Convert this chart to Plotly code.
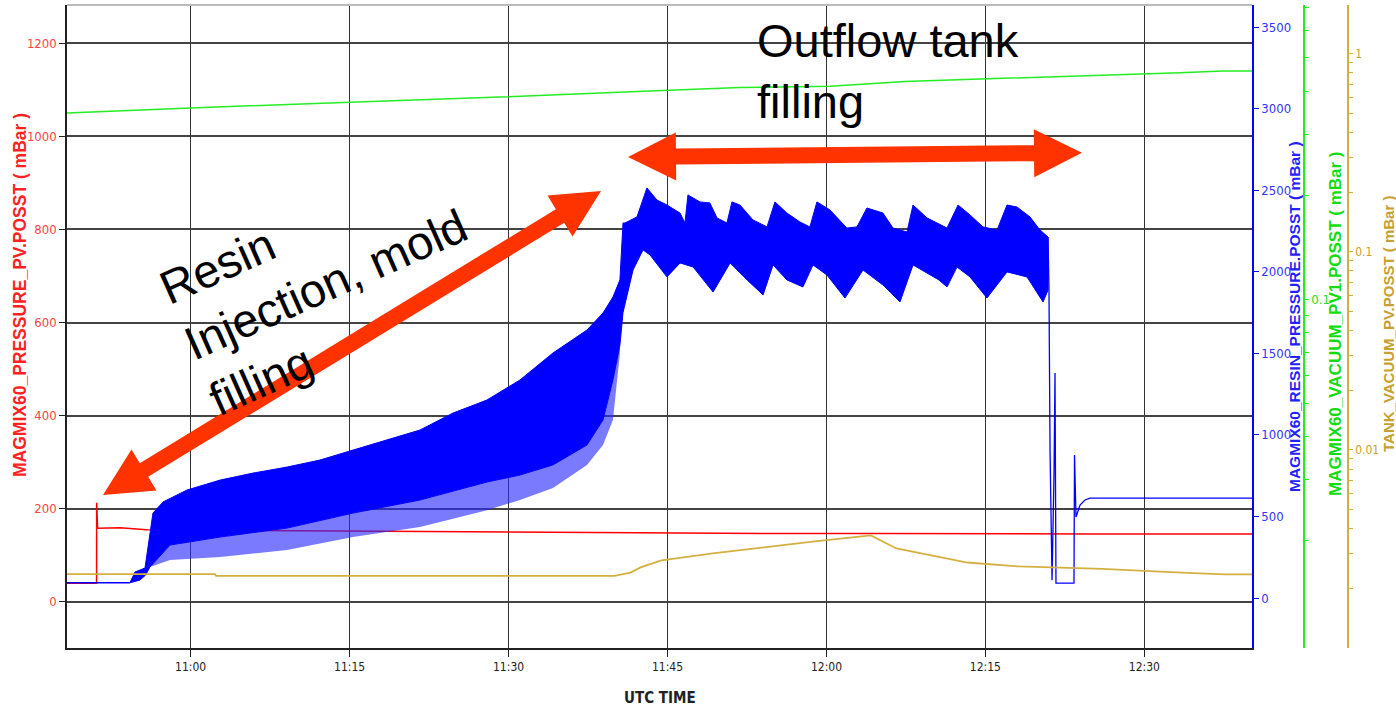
import plotly.graph_objects as go
import pandas as pd
import math

# ---------------- data (time = minutes after 10:00 UTC) ----------------
red_t = [48.33, 51.12, 51.13, 51.16, 51.22, 53.33, 55.85, 62.0, 70.0, 84.76, 95.0, 102.41, 115.0, 125.0, 136.38, 145.0, 160.16]
red_v = [40, 40, 213, 175, 158, 159, 155, 154, 153, 151, 149, 147.5, 147, 147, 146, 146, 146]

blue_pre_t = [48.33, 54.27]
blue_pre_v = [94, 94]

blue_up_t = [54.27, 54.75, 55.69, 56.10, 56.44, 57.39, 59.65, 62.77, 65.88, 69.09, 72.20, 75.32, 78.53,
             81.64, 84.76, 87.96, 91.08, 94.19, 97.40, 98.91, 99.85, 100.51, 100.80, 100.99, 102.12,
             103.06, 104.00, 104.95, 106.18, 106.65, 106.93, 108.06, 109.00, 109.67, 110.61, 111.08,
             111.84, 113.06, 114.39, 115.14, 116.27, 117.50, 118.44, 119.10, 120.33, 121.93, 122.88,
             123.82, 125.33, 126.28, 127.60, 128.17, 129.49, 131.38, 132.42, 133.55, 134.77, 136.10,
             137.04, 137.98, 139.21, 140.15, 140.91]
blue_up_v = [94, 160, 184, 356, 521, 589, 662, 723, 766, 803, 846, 907, 969,
             1030, 1134, 1214, 1337, 1502, 1643, 1747, 1845, 1950, 2299, 2299, 2336,
             2514, 2440, 2409, 2360, 2299, 2471, 2428, 2422, 2330, 2299, 2428,
             2409, 2318, 2275, 2428, 2360, 2305, 2275, 2428, 2379, 2268, 2275,
             2391, 2360, 2268, 2244, 2409, 2330, 2268, 2409, 2348, 2275, 2256,
             2409, 2397, 2336, 2256, 2213]

# solid lower edge of the oscillation band
blue_lo_t = [54.27, 55.20, 55.75, 56.16, 58.05, 62.77, 69.09, 75.32, 81.64, 87.96, 91.08, 94.19,
             97.40, 98.91, 99.85, 100.51, 100.80, 101.75, 102.69, 103.35, 104.95, 106.18, 107.42,
             109.30, 110.91, 112.51, 114.02, 114.96, 116.27, 117.78, 118.73, 120.05, 121.75, 123.45,
             125.33, 126.94, 128.17, 130.61, 131.38, 132.32, 133.55, 135.15, 137.04, 138.93, 140.44, 140.91]
blue_lo_v = [94, 110, 141, 190, 325, 374, 429, 521, 601, 711, 754, 816,
             938, 1091, 1337, 1550, 1750, 2011, 2134, 2103, 1968, 2054, 2029,
             1876, 2054, 1950, 1858, 2042, 1950, 1907, 2042, 1980, 1839, 2011,
             1919, 1815, 2042, 1950, 1907, 2029, 1968, 1839, 1999, 1968, 1815, 1888]

# tips of the downward spikes during injection
blue_spike_t = [56.16, 58.05, 62.77, 69.09, 75.32, 81.64, 87.96, 91.08, 94.19, 97.40, 98.91, 99.85, 100.51]
blue_spike_v = [190, 233, 251, 294, 374, 435, 539, 601, 674, 815, 938, 1091, 1500]

blue_tail_t = [140.91, 141.00, 141.10, 141.29, 141.48, 141.57, 141.66, 143.36, 143.41, 143.55, 143.93, 144.40, 144.87, 160.16]
blue_tail_v = [2213, 1900, 907, 110, 785, 1379, 92, 92, 877, 497, 570, 601, 613, 613]

green_t = [48.33, 60.0, 75.03, 89.19, 103.34, 111.84, 120.33, 127.41, 134.49, 140.15, 145.34, 153.36, 157.42, 160.16]
green_v = [0.346, 0.358, 0.372, 0.385, 0.401, 0.410, 0.414, 0.427, 0.434, 0.439, 0.444, 0.453, 0.458, 0.458]

tan_t = [48.33, 62.3, 62.4, 100.0, 101.5, 102.46, 104.43, 109.26, 118.9, 124.2, 126.6, 133.3, 138.15, 142.97, 146.0, 153.0, 157.5, 160.16]
tan_v = [0.00236, 0.00236, 0.00231, 0.00231, 0.00240, 0.00255, 0.00277, 0.0030, 0.00345, 0.0037, 0.00318, 0.0027, 0.00258, 0.00255, 0.00251, 0.00241, 0.00235, 0.00235]

left_ticks = [0, 200, 400, 600, 800, 1000, 1200]
blue_ticks = [0, 500, 1000, 1500, 2000, 2500, 3000, 3500]
green_ticks = [0.02, 0.03, 0.04, 0.05, 0.06, 0.07, 0.08, 0.09, 0.1, 0.2, 0.3, 0.4, 0.5, 0.6, 0.7]
green_labels = {0.1: "0.1"}
tan_ticks = [0.002, 0.003, 0.004, 0.005, 0.006, 0.007, 0.008, 0.009, 0.01,
             0.02, 0.03, 0.04, 0.05, 0.06, 0.07, 0.08, 0.09, 0.1,
             0.2, 0.3, 0.4, 0.5, 0.6, 0.7, 0.8, 0.9, 1]
tan_labels = {0.01: "0.01", 0.1: "0.1", 1: "1"}

# ---------------- helpers ----------------
base = pd.Timestamp("2021-01-01 10:00:00")
def tt(mins):
    return [base + pd.Timedelta(minutes=m) for m in mins]

W, H = 1396, 706
ML, MR, MT, MB = 67, 0, 5, 58
PW, PH = W - ML - MR, H - MT - MB
def px(x):
    return (x - ML) / PW
def py(y):
    return 1 - (y - MT) / PH

XD = px(1252)
RED = "#FF0000"
BLUE = "#0000FF"
GREEN = "#22EE22"
TAN = "#D4B040"
NARROW = "Liberation Sans Narrow, DejaVu Sans Condensed, Arial Narrow, sans-serif"
ARIAL = "Liberation Sans, Arial, sans-serif"

fig = go.Figure()
fig.add_trace(go.Scatter(x=tt(red_t), y=red_v, mode="lines", line=dict(color=RED, width=1.5), yaxis="y"))
fig.add_trace(go.Scatter(x=tt(blue_pre_t), y=blue_pre_v, mode="lines", line=dict(color=BLUE, width=1.5), yaxis="y2"))
# spike zone below the solid band
fig.add_trace(go.Scatter(x=tt(blue_lo_t[3:16] + blue_spike_t[::-1]),
                         y=blue_lo_v[3:16] + blue_spike_v[::-1], mode="lines",
                         fill="toself", fillcolor="rgba(40,40,255,0.62)", line=dict(width=0), yaxis="y2"))
fig.add_trace(go.Scatter(x=tt(blue_up_t + blue_lo_t[::-1]), y=blue_up_v + blue_lo_v[::-1], mode="lines",
                         fill="toself", fillcolor=BLUE, line=dict(color=BLUE, width=1), yaxis="y2"))
fig.add_trace(go.Scatter(x=tt(blue_tail_t), y=blue_tail_v, mode="lines", line=dict(color=BLUE, width=1.3), yaxis="y2"))
fig.add_trace(go.Scatter(x=tt(green_t), y=green_v, mode="lines", line=dict(color=GREEN, width=1.5), yaxis="y3"))
fig.add_trace(go.Scatter(x=tt(tan_t), y=tan_v, mode="lines", line=dict(color=TAN, width=1.8), yaxis="y4"))

fig.update_layout(
    width=W, height=H, margin=dict(l=ML, r=MR, t=MT, b=MB),
    paper_bgcolor="white", plot_bgcolor="white", showlegend=False,
    xaxis=dict(domain=[0, XD], type="date",
               range=[base + pd.Timedelta(minutes=48.33), base + pd.Timedelta(minutes=160.16)],
               dtick=15 * 60 * 1000, tick0=base, tickformat="%H:%M",
               showgrid=True, gridcolor="#333333", gridwidth=1.3,
               showline=True, linecolor="#222222", linewidth=2,
               ticks="outside", ticklen=7, tickcolor="#222222",
               tickfont=dict(family=NARROW, size=12, color="#222222"), zeroline=False),
    yaxis=dict(range=[-99, 1282], tickvals=left_ticks, showgrid=True, gridcolor="#444444", gridwidth=1.8,
               showline=True, linecolor="#222222", linewidth=1.5, ticks="outside", ticklen=6,
               tickcolor="#222222", tickfont=dict(family=NARROW, size=13, color="#FF4444"), zeroline=False),
    yaxis2=dict(range=[-306, 3635], tickvals=blue_ticks, overlaying="y", side="right", anchor="x",
                showgrid=False, showline=True, linecolor=BLUE, linewidth=1.5, ticks="outside", ticklen=5,
                tickcolor=BLUE, tickfont=dict(family=NARROW, size=13, color="#3333FF"), zeroline=False),
    yaxis3=dict(type="log", range=[-2.01, -0.148], tickvals=green_ticks,
                ticktext=[green_labels.get(v, "") for v in green_ticks],
                overlaying="y", side="right", anchor="free", position=px(1304),
                showgrid=False, showline=True, linecolor=GREEN, linewidth=1.5, ticks="outside", ticklen=4,
                tickcolor=GREEN, tickfont=dict(family=NARROW, size=13, color="#22DD22"), zeroline=False),
    yaxis4=dict(type="log", range=[-3.0, 0.245], tickvals=tan_ticks,
                ticktext=[tan_labels.get(v, "") for v in tan_ticks],
                overlaying="y", side="right", anchor="free", position=px(1348),
                showgrid=False, showline=True, linecolor=TAN, linewidth=1.5, ticks="outside", ticklen=4,
                tickcolor=TAN, tickfont=dict(family=NARROW, size=12, color="#C8A030"), zeroline=False),
)

# top frame line
fig.add_shape(type="line", xref="paper", yref="paper", x0=0, x1=XD, y0=1, y1=1,
              line=dict(color="#BBBBBB", width=2))

# double headed arrows
def arrow_path(p0, p1, hl=48, hw=24, sw=8):
    dx, dy = p1[0] - p0[0], p1[1] - p0[1]
    L = math.hypot(dx, dy)
    ux, uy = dx / L, dy / L
    nx, ny = -uy, ux
    b0 = (p0[0] + ux * hl, p0[1] + uy * hl)
    b1 = (p1[0] - ux * hl, p1[1] - uy * hl)
    pts = [p0,
           (b0[0] + nx * hw, b0[1] + ny * hw), (b0[0] + nx * sw, b0[1] + ny * sw),
           (b1[0] + nx * sw, b1[1] + ny * sw), (b1[0] + nx * hw, b1[1] + ny * hw),
           p1,
           (b1[0] - nx * hw, b1[1] - ny * hw), (b1[0] - nx * sw, b1[1] - ny * sw),
           (b0[0] - nx * sw, b0[1] - ny * sw), (b0[0] - nx * hw, b0[1] - ny * hw)]
    return "M " + " L ".join(f"{px(x):.5f} {py(y):.5f}" for x, y in pts) + " Z"

ARROW = "#FF3300"
for p0, p1 in [((103, 495), (601, 191)), ((628, 157), (1082, 152.7))]:
    fig.add_shape(type="path", xref="paper", yref="paper", path=arrow_path(p0, p1),
                  fillcolor=ARROW, line=dict(color=ARROW, width=0))

# big annotations
fig.add_annotation(xref="paper", yref="paper", x=px(755), y=py(12), xanchor="left", yanchor="top",
                   text="Outflow tank<br>filling", showarrow=False, align="left",
                   font=dict(family=ARIAL, size=47, color="black"))
fig.add_annotation(xref="paper", yref="paper", x=px(325), y=py(284), xanchor="center", yanchor="middle",
                   text="Resin<br>Injection, mold<br>filling", showarrow=False, align="left", textangle=-24,
                   font=dict(family=ARIAL, size=47, color="black"))

# axis titles
titles = [
    ("MAGMIX60_PRESSURE_PV.POSST ( mBar )", 20, 295, "#FF2222", 17.5),
    ("MAGMIX60_RESIN_PRESSURE.POSST ( mBar )", 1294, 317, "#2222FF", 15.5),
    ("MAGMIX60_VACUUM_PV1.POSST ( mBar )", 1335, 324, "#11DD11", 17),
    ("TANK_VACUUM_PV.POSST ( mBar )", 1388, 324, "#C8A030", 15),
]
for txt, x, y, c, s in titles:
    fig.add_annotation(xref="paper", yref="paper", x=px(x), y=py(y), xanchor="center", yanchor="middle",
                       text=f"<b>{txt}</b>", showarrow=False, textangle=-90,
                       font=dict(family=ARIAL, size=s, color=c))
fig.add_annotation(xref="paper", yref="paper", x=px(660), y=py(698), xanchor="center", yanchor="middle",
                   text="<b>UTC TIME</b>", showarrow=False,
                   font=dict(family=NARROW, size=15, color="#222222"))

fig.write_html("out.html")
